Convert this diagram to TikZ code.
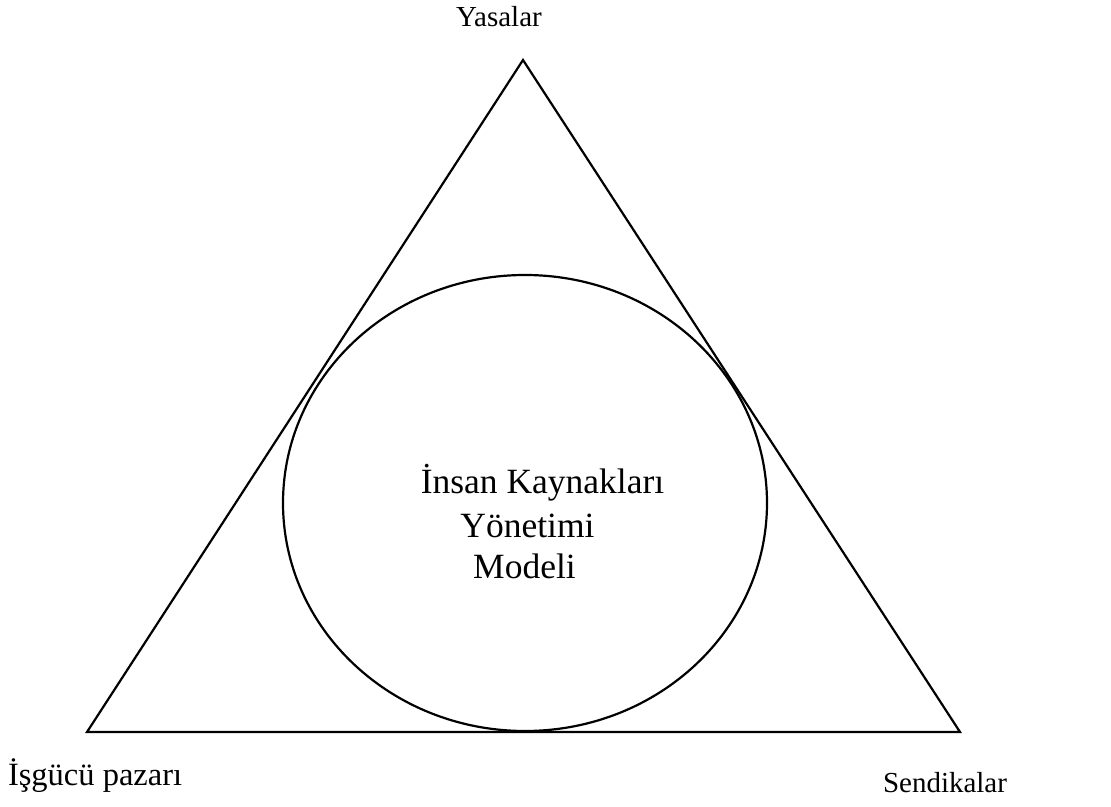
\documentclass[tikz,border=0pt]{standalone}
\usepackage{fontspec}
\setmainfont{Liberation Serif}
\usepackage{tikz}
\usetikzlibrary{positioning}

\begin{document}
\begin{tikzpicture}[
    every node/.style={inner sep=0pt, outer sep=0pt},
    edge/.style={draw, line width=1.25pt, line join=miter},
    corner/.style={font=\fontsize{16.5}{20}\selectfont},
    model/.style={font=\fontsize{20.2}{24.5}\selectfont},
]
\useasboundingbox (0,0) rectangle (22.22,-16.14);

% === TRIANGLE ===
\coordinate (top) at (10.46,-1.20);
\coordinate (left) at (1.74,-14.64);
\coordinate (right) at (19.20,-14.64);
\draw[edge] (top) -- (left) -- (right) -- cycle;

% Inscribed circle
\draw[edge] (10.50,-10.06) ellipse [x radius=4.84, y radius=4.56];

% === CORNER LABELS ===
\node[corner, anchor=base] (yasalar) at (9.98,-0.54) {Yasalar};
\node[corner, font=\fontsize{18.5}{22}\selectfont, anchor=base west] (isgucu) at (0.16,-15.70) {İşgücü pazarı};
\node[corner, anchor=base west] (sendikalar) at (17.66,-15.84) {Sendikalar};

% === CENTRE ===
\node[model, anchor=base] (ik) at (10.85,-9.86) {İnsan Kaynakları};
\node[model, anchor=base] (yonetimi) at (10.55,-10.74) {Yönetimi};
\node[model, anchor=base] (modeli) at (10.49,-11.56) {Modeli};

\end{tikzpicture}
\end{document}
